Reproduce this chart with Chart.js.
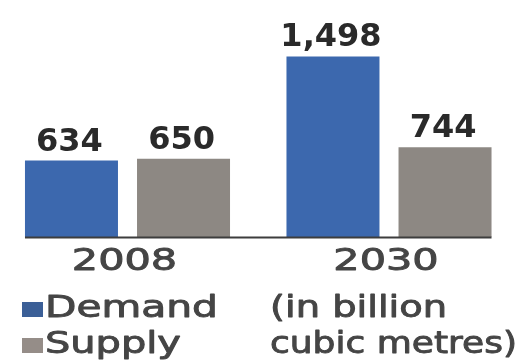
<!DOCTYPE html>
<html>
<head>
<meta charset="utf-8">
<script src="https://cdn.jsdelivr.net/npm/chart.js@4"></script>
<style>
  html, body { margin: 0; padding: 0; background: #ffffff; }
  #wrap { width: 519px; height: 364px; position: relative; }
  #chart { filter: blur(0.4px); }
</style>
</head>
<body>
<div id="wrap"><canvas id="chart" width="519" height="364"></canvas></div>
<script>
// Gas demand vs supply, billion cubic metres
const categories = ['2008', '2030'];
const seriesNames = ['Demand', 'Supply'];
const demandValues = [634, 1498];
const supplyValues = [650, 744];
const unitLines = ['(in billion', 'cubic metres)'];

const BLUE = '#3c68ae';
const GREY = '#8d8883';
const LEGEND_BLUE = '#3b5f97';
const LEGEND_GREY = '#958d88';

// Draw text stretched horizontally around its anchor; optional outline thickens the strokes
function wideText(ctx, text, x, y, sx, align, weight) {
  ctx.save();
  ctx.translate(x, y);
  ctx.scale(sx, 1);
  ctx.textAlign = align || 'left';
  ctx.fillText(text, 0, 0);
  if (weight) {
    ctx.lineWidth = weight;
    ctx.lineJoin = 'round';
    ctx.strokeStyle = ctx.fillStyle;
    ctx.strokeText(text, 0, 0);
  }
  ctx.restore();
}

const decorations = {
  id: 'decorations',
  afterDatasetsDraw(chart) {
    const ctx = chart.ctx;
    const xScale = chart.scales.x;
    const yScale = chart.scales.y;
    const first = chart.getDatasetMeta(0).data[0];
    const last = chart.getDatasetMeta(1).data[categories.length - 1];
    const base = yScale.getPixelForValue(0);

    // baseline under the bars
    ctx.save();
    ctx.strokeStyle = '#3d3d3d';
    ctx.lineWidth = 2;
    ctx.beginPath();
    ctx.moveTo(first.x - first.width / 2, base + 0.5);
    ctx.lineTo(last.x + last.width / 2, base + 0.5);
    ctx.stroke();

    // value labels above each bar
    ctx.fillStyle = '#2a2a2a';
    ctx.font = 'bold 32px "DejaVu Sans"';
    ctx.textBaseline = 'alphabetic';
    chart.data.datasets.forEach((ds, di) => {
      chart.getDatasetMeta(di).data.forEach((bar, i) => {
        const label = ds.data[i].toLocaleString('en-US');
        wideText(ctx, label, bar.x - 2, bar.y - 10, 1.0, 'center');
      });
    });

    // category labels
    ctx.fillStyle = '#454545';
    ctx.font = '30px "DejaVu Sans"';
    categories.forEach((c, i) => {
      wideText(ctx, c, xScale.getPixelForValue(i) - 3, 270, 1.38, 'center', 0.9);
    });

    // legend keys and unit note
    const keyColours = [LEGEND_BLUE, LEGEND_GREY];
    const rows = [317, 353];
    const textStretch = [1.36, 1.33];
    const unitStretch = [1.28, 1.2];
    seriesNames.forEach((name, i) => {
      ctx.fillStyle = keyColours[i];
      ctx.fillRect(22, rows[i] - 15, 21, 15);
      ctx.fillStyle = '#454545';
      wideText(ctx, name, 45, rows[i], textStretch[i], 'left', 0.9);
      wideText(ctx, unitLines[i], 270, rows[i], unitStretch[i], 'left', 0.9);
    });
    ctx.restore();
  }
};

new Chart(document.getElementById('chart'), {
  type: 'bar',
  data: {
    labels: categories,
    datasets: [
      { label: seriesNames[0], data: demandValues, backgroundColor: BLUE },
      { label: seriesNames[1], data: supplyValues, backgroundColor: GREY }
    ]
  },
  options: {
    responsive: false,
    animation: false,
    clip: false,
    categoryPercentage: 0.857,
    barPercentage: 0.83,
    layout: { padding: { left: 127.5, right: 130, top: 8, bottom: 127 } },
    scales: {
      x: { display: false, offset: false },
      y: { display: false, min: 0, max: 1900 }
    },
    plugins: {
      legend: { display: false },
      tooltip: { enabled: false }
    }
  },
  plugins: [decorations]
});
</script>
</body>
</html>
